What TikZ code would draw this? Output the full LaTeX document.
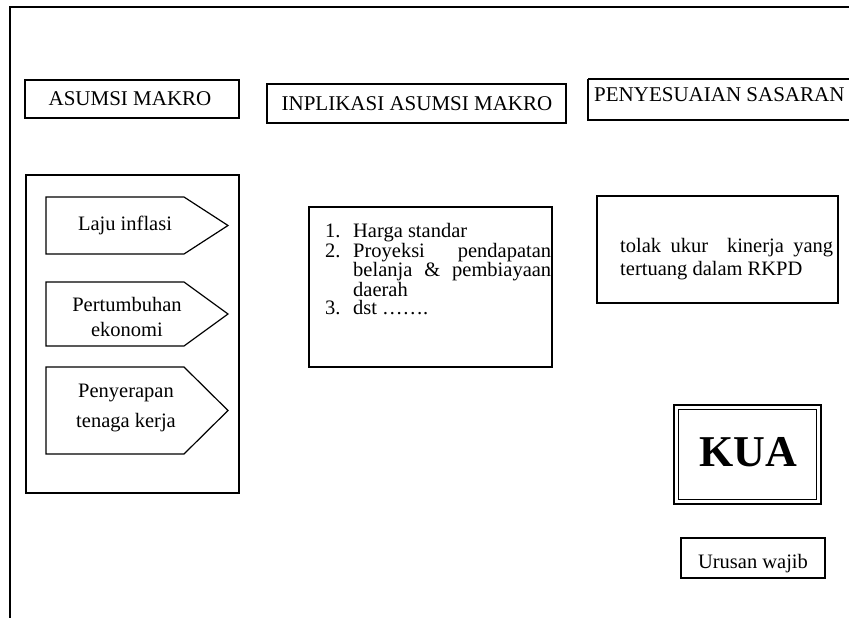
\documentclass[tikz,border=0pt]{standalone}
\usepackage{fontspec}
\setmainfont{Liberation Serif}
\begin{document}
\begin{tikzpicture}[x=1pt,y=-1pt,
  box/.style={draw, line width=1.2pt},
  lbl/.style={inner sep=0pt, font=\fontsize{20.5}{24}\selectfont, align=center},
  head/.style={inner sep=0pt, font=\fontsize{21}{24}\selectfont}]
\useasboundingbox (0,0) rectangle (849,618);
% outer frame
\draw[line width=2.8pt] (10,618) -- (10,7) -- (849,7);
% header boxes
\draw[box] (25,80) rectangle (239,118);
\node[head,anchor=base] (h1) at (130,106) {ASUMSI MAKRO};
\draw[box] (267,84) rectangle (566,123);
\node[head,anchor=base] (h2) at (417,110.5) {INPLIKASI ASUMSI MAKRO};
\draw[box] (588,79) -- (851,79) (588,79) -- (588,120) -- (851,120);
\node[head,anchor=base west] (h3) at (594,102) {PENYESUAIAN SASARAN};
% left container
\draw[box] (26,175) rectangle (239,493);
\draw[box] (46,197) -- (184,197) -- (228,225.5) -- (184,254) -- (46,254) -- cycle;
\node[lbl,anchor=base] (p1) at (125,230) {Laju inflasi};
\draw[box] (46,282) -- (184,282) -- (228,314) -- (184,346) -- (46,346) -- cycle;
\node[lbl,anchor=north,font=\fontsize{20.5}{25}\selectfont] (p2) at (127,297) {Pertumbuhan\\ekonomi};
\draw[box] (46,367) -- (184,367) -- (228,410.5) -- (184,454) -- (46,454) -- cycle;
\node[lbl,anchor=north,font=\fontsize{20.5}{30}\selectfont] (p3) at (126,383.5) {Penyerapan\\tenaga kerja};
% list box
\draw[box] (309,207) rectangle (552,367);
\node[inner sep=0pt, anchor=north west, font=\fontsize{20.5}{18.5}\selectfont, text width=198pt, align=justify] (list) at (353,223) {%
\hyphenpenalty=10000 \exhyphenpenalty=10000
\noindent\llap{\makebox[28pt][l]{1.}}Harga standar\par
\noindent\llap{\makebox[28pt][l]{2.}}Proyeksi pendapatan belanja \& pembiayaan daerah\par
\noindent\llap{\makebox[28pt][l]{3.}}dst …….\par};
% tolak ukur box
\draw[box] (597,196) rectangle (838,303);
\node[inner sep=0pt, anchor=north west, font=\fontsize{20.5}{23}\selectfont, text width=213pt, align=justify] (t) at (620,238) {%
\hyphenpenalty=10000
tolak ukur \ kinerja yang tertuang dalam RKPD\par};
% KUA
\draw[line width=1.8pt] (674,405) rectangle (821,504);
\draw[line width=1.6pt] (678.5,409.5) rectangle (816.5,499.5);
\node[inner sep=0pt, anchor=base, font=\fontsize{44}{48}\selectfont\bfseries] (kua) at (748,466) {KUA};
% Urusan wajib
\draw[box] (681,538) rectangle (825,578);
\node[lbl,anchor=base] (u) at (753,568) {Urusan wajib};
\end{tikzpicture}
\end{document}
